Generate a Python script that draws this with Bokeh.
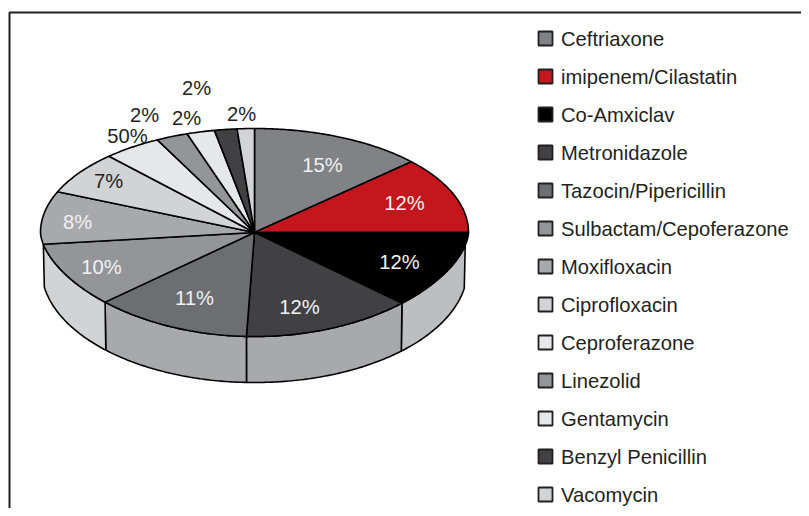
import math
from bokeh.plotting import figure
from bokeh.models import Range1d
from bokeh.core.properties import value
from bokeh.embed import file_html
from bokeh.resources import INLINE

drugs = ["Ceftriaxone", "imipenem/Cilastatin", "Co-Amxiclav", "Metronidazole",
         "Tazocin/Pipericillin", "Sulbactam/Cepoferazone", "Moxifloxacin", "Ciprofloxacin",
         "Ceproferazone", "Linezolid", "Gentamycin", "Benzyl Penicillin", "Vacomycin"]
shares = [13.1, 11.9, 12.9, 12.7, 11.7, 10.1, 9.0, 6.7, 4.4, 2.4, 2.1, 1.7, 1.3]
labels = ["15%", "12%", "12%", "12%", "11%", "10%", "8%", "7%", "50%", "2%", "2%", "2%", "2%"]
colors = ["#808285", "#c4161c", "#000000", "#414042", "#6d6e71", "#939598", "#a7a9ac",
          "#d1d3d4", "#e6e7e8", "#939598", "#e6e7e8", "#414042", "#d1d3d4"]
label_colors = ["#f1f2f2"] * 7 + ["#231f20"] * 6
label_x = [322, 404, 399, 299, 194, 101, 77, 108, 127, 144, 186, 196, 241]
label_y = [164, 202, 261, 306, 297, 266, 221, 180, 135, 114, 117, 87, 113]
wall_colors = ["#bcbec0", "#a7a9ac", "#a7a9ac", "#d1d3d4"]

CX, CY, RX, RY = 254, 232, 214, 104
BOT_CY, BOT_RX, BOT_RY = 268, 213, 114
WALL_FROM = 100
LOWER_K = 1.2
W, H = 801, 508


def top(deg):
    t = math.radians(deg)
    c = math.cos(t)
    dy = RY * c if c >= 0 else -RY * abs(c) ** LOWER_K
    return CX + RX * math.sin(t), CY - dy


def bottom(deg):
    t = math.radians(deg)
    return CX + BOT_RX * math.sin(t), BOT_CY - BOT_RY * math.cos(t)


def arc(fn, a, b):
    n = max(2, int(abs(b - a) * 1.5))
    pts = [fn(a + (b - a) * i / n) for i in range(n + 1)]
    return [q[0] for q in pts], [q[1] for q in pts]


p = figure(width=W, height=H, x_range=Range1d(0, W), y_range=Range1d(H, 0),
           output_backend="svg", toolbar_location=None, min_border=0,
           background_fill_color="white", border_fill_color="white", outline_line_color=None)
p.axis.visible = False
p.grid.visible = False

# frame
p.line([9, 9, W], [H, 12, 12], line_color="#231f20", line_width=2)

edges = [0.0]
for s in shares:
    edges.append(edges[-1] + s * 360 / sum(shares))

# side wall under the front slices
for i, c in zip(range(2, 6), wall_colors):
    a, b = max(edges[i], WALL_FROM), edges[i + 1]
    tx, ty = arc(top, a, b)
    bx, by = arc(bottom, b, a)
    p.patch(tx + bx, ty + by, fill_color=c, line_color="#000000", line_width=1.6)

# top faces
for i, c in enumerate(colors):
    ax, ay = arc(top, edges[i], edges[i + 1])
    p.patch([CX] + ax + [CX], [CY] + ay + [CY], fill_color=c, line_color="#000000", line_width=1.6)

# slice labels
p.text(label_x, label_y, text=labels, text_color=label_colors, text_font=value("Liberation Sans"),
       text_font_size="20.2px", text_align="center", text_baseline="middle")

# legend
row = [38 + 38 * i for i in range(len(drugs))]
p.rect([545] * len(drugs), row, width=14, height=14, fill_color=colors,
       line_color="#231f20", line_width=1.8)
p.text([560.5] * len(drugs), row, text=drugs, text_color="#231f20", text_font=value("Liberation Sans"),
       text_font_size="20.2px", text_align="left", text_baseline="middle")

open("out.html", "w").write(file_html(p, INLINE))
